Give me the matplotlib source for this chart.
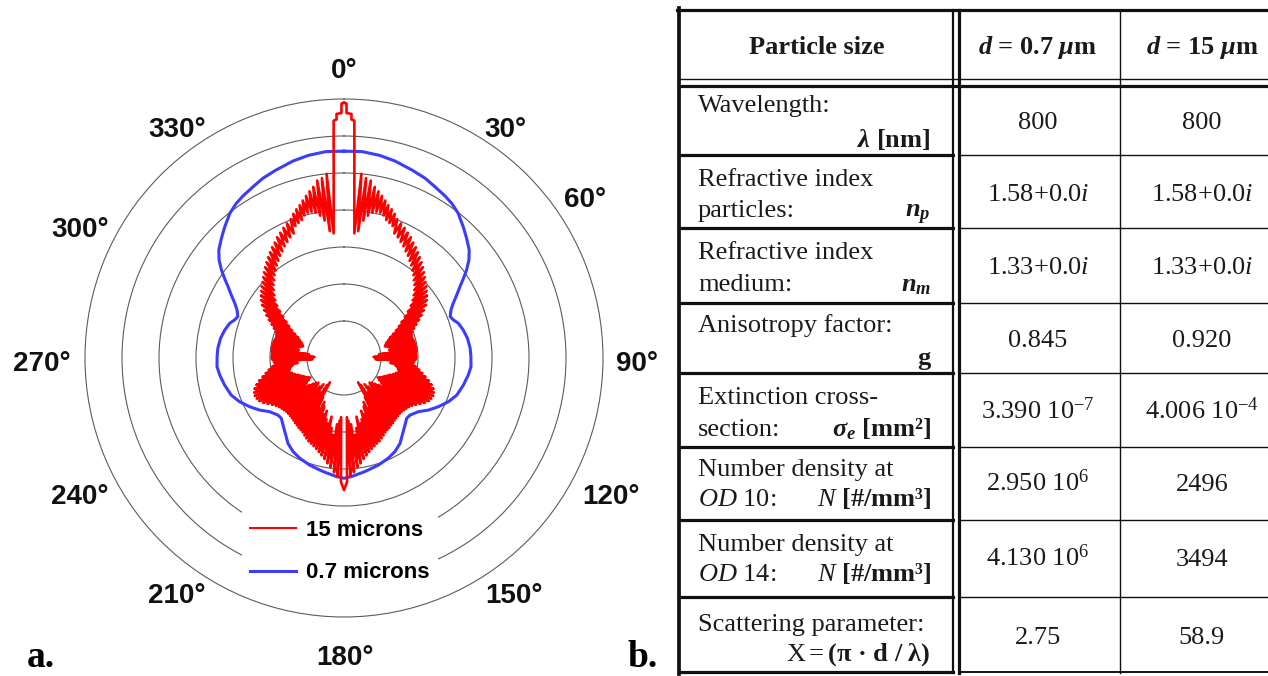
import numpy as np
import matplotlib
matplotlib.use("Agg")
import matplotlib.pyplot as plt

W, H = 1268, 676

# ---- panel a: phase functions, right half 0..180 deg (the plot is mirror symmetric)
blue_deg = [0, 5, 10, 14.5, 20, 24.3, 28, 32, 35, 38.3, 42.3, 45.7, 49.2, 51.9, 54.3, 56.3,
            58.4, 60.8, 63.4, 65.8, 68.7, 70.8, 73.1, 76.8, 81, 85.6, 89.4, 93.9, 97.8,
            102.7, 108.2, 112.7, 117.3, 121.7, 125.8, 130.8, 133.9, 137.7, 142.9, 146.7,
            151.4, 156.2, 162.2, 169.5, 176.3, 180]
blue_r = [5.59, 5.60, 5.56, 5.50, 5.40, 5.33, 5.24, 5.16, 5.09, 4.98, 4.79, 4.63, 4.47, 4.29, 4.08, 3.88,
          3.68, 3.49, 3.30, 3.17, 3.08, 3.13, 3.23, 3.31, 3.38, 3.42, 3.43, 3.44, 3.39,
          3.31, 3.21, 3.06, 2.87, 2.68, 2.48, 2.36, 2.35, 2.45, 2.61, 2.76,
          2.88, 2.96, 3.04, 3.12, 3.21, 3.25]

# forward peak and first side lobes
red_head_deg = [0, 0.55, 0.6, 1.75, 1.8, 2.5, 3.2, 4.0, 4.75, 5.4, 6.4, 7.0, 8.0, 8.6, 9.5,
                10.2, 11.0, 11.7, 12.5, 13.2, 14.0, 14.7, 15.5, 16.2, 17.0, 17.8, 18.6, 19.4, 20.2]
red_head_r = [6.90, 6.88, 6.62, 6.60, 6.45, 6.42, 5.00, 4.00, 3.38, 5.00, 3.45, 4.90, 3.75, 4.85, 3.90,
              4.70, 4.00, 4.60, 4.05, 4.50, 4.05, 4.40, 4.00, 4.30, 3.90, 4.22, 3.85, 4.13, 3.80]
# 21..175 deg, one reading per degree (peaks / dips of the ripple)
red_mid_deg = list(range(21, 176))
red_mid_r = [4.02, 3.63, 3.95, 3.57, 3.88, 3.49, 3.80, 3.42, 3.73, 3.33,
             3.64, 3.26, 3.57, 3.17, 3.49, 3.09, 3.41, 3.00, 3.33, 2.92,
             3.25, 2.82, 3.17, 2.74, 3.09, 2.64, 3.01, 2.53, 2.95, 2.42,
             2.88, 2.29, 2.81, 2.13, 2.73, 1.98, 2.64, 1.83, 2.52, 1.71,
             2.40, 1.59, 2.28, 1.47, 2.16, 1.36, 2.06, 1.29, 1.98, 1.22,
             1.94, 1.18, 1.92, 1.15, 1.94, 1.22, 1.96, 1.32, 1.96, 1.24,
             1.97, 1.28, 1.97, 0.95, 1.96, 1.30, 1.95, 0.80, 1.96, 1.25,
             1.95, 0.85, 1.90, 1.30, 1.88, 1.26, 1.96, 1.40, 2.06, 1.46,
             2.16, 1.50, 2.26, 1.52, 2.38, 1.46, 2.48, 1.40, 2.56, 1.32,
             2.60, 1.26, 2.62, 1.20, 2.60, 1.16, 2.57, 1.10, 2.50, 1.05,
             2.41, 1.12, 2.32, 1.22, 2.25, 1.30, 2.20, 1.18, 2.17, 1.08,
             2.15, 1.00, 2.13, 0.96, 2.13, 1.06, 2.14, 1.22, 2.15, 1.02,
             2.17, 0.90, 2.20, 1.12, 2.22, 1.32, 2.25, 0.86, 2.27, 0.76,
             2.30, 1.20, 2.35, 1.52, 2.40, 1.30, 2.45, 1.42, 2.48, 1.62,
             2.52, 1.50, 2.57, 1.72, 2.63, 1.82, 2.70, 1.62, 2.78, 1.92,
             2.88, 2.10, 2.98, 1.80, 3.10]
# back-scatter (glory) spike
red_tail_deg = [176.0, 176.8, 177.2, 178.6, 180.0]
red_tail_r = [1.70, 3.20, 1.60, 3.35, 3.57]

ring_r = [1, 2, 3, 4, 5, 6, 7]
angle_ticks = [0, 30, 60, 90, 120, 150, 180, 210, 240, 270, 300, 330]
series_labels = ["15 microns", "0.7 microns"]

# ---- panel b: table
col_heads = ["Particle size", r"$\mathbfit{d}$ = 0.7 $\mathbfit{\mu}$m", r"$\mathbfit{d}$ = 15 $\mathbfit{\mu}$m"]
row_line1 = ["Wavelength:", "Refractive index", "Refractive index", "Anisotropy factor:",
             "Extinction cross-", "Number density at", "Number density at", "Scattering parameter:"]
row_line2 = ["", "particles:", "medium:", "", "section:",
             r"$\mathit{OD}$ 10:", r"$\mathit{OD}$ 14:", ""]
row_units = [r"$\mathbfit{\lambda}$ [nm]", r"$\mathbfit{n}_\mathbfit{p}$", r"$\mathbfit{n}_\mathbfit{m}$", "g",
             r"$\mathbfit{\sigma}_\mathbfit{e}$ [mm²]", r"$\mathit{N}$ [#/mm³]", r"$\mathit{N}$ [#/mm³]",
             r"$\mathrm{X}=$(π · d / λ)"]
vals_07 = ["800", r"1.58+0.0$\mathit{i}$", r"1.33+0.0$\mathit{i}$", "0.845",
           r"3.390 10$^{-7}$", r"2.950 10$^{6}$", r"4.130 10$^{6}$", "2.75"]
vals_15 = ["800", r"1.58+0.0$\mathit{i}$", r"1.33+0.0$\mathit{i}$", "0.920",
           r"4.006 10$^{-4}$", "2496", "3494", "58.9"]

plt.rcParams.update({
    "mathtext.fontset": "custom",
    "mathtext.rm": "Liberation Serif",
    "mathtext.it": "Liberation Serif:italic",
    "mathtext.bf": "Liberation Serif:bold",
    "mathtext.bfit": "Liberation Serif:italic:bold",
})

fig = plt.figure(figsize=(W / 100, H / 100), dpi=100)

# polar axes: centre (344, 358) px, r = 7 at 259 px
r_max = 7.05
rad_px = 259 * r_max / 7
cx, cy = 344, 358
ax = fig.add_axes([(cx - rad_px) / W, (H - cy - rad_px) / H, 2 * rad_px / W, 2 * rad_px / H],
                  projection="polar")
ax.set_theta_zero_location("N")
ax.set_theta_direction(-1)
ax.set_ylim(0, r_max)
ax.set_yticks(ring_r)
ax.set_yticklabels([])
ax.set_xticks([])
ax.yaxis.grid(True, color="#5c5c5c", lw=0.8)
ax.spines["polar"].set_visible(False)


def mirrored(deg, r):
    deg = np.asarray(deg, float)
    r = np.asarray(r, float)
    full_deg = np.concatenate([deg, 360 - deg[::-1]])
    full_r = np.concatenate([r, r[::-1]])
    return np.radians(full_deg), full_r


bt, br = mirrored(blue_deg, blue_r)
rt, rr = mirrored(red_head_deg + red_mid_deg + red_tail_deg, red_head_r + red_mid_r + red_tail_r)
l_blue, = ax.plot(bt, br, color="#3c3cff", lw=2.2, label=series_labels[1])
l_red, = ax.plot(rt, rr, color="#ff0000", lw=1.9, label=series_labels[0])

leg = ax.legend(handles=[l_red, l_blue], loc="upper left", bbox_to_anchor=(242 / W, 1 - 512 / H),
                bbox_transform=fig.transFigure, prop=dict(family="Liberation Sans", weight="bold", size=16),
                frameon=True, fancybox=False, edgecolor="none", facecolor="white", framealpha=1,
                handlelength=2.1, handletextpad=0.45, labelspacing=0.97, borderpad=0.35, borderaxespad=0)
leg.get_lines()[0].set_linewidth(1.5)

# overlay in pixel coordinates for labels and the table
ov = fig.add_axes([0, 0, 1, 1])
ov.set_xlim(0, W)
ov.set_ylim(H, 0)
ov.axis("off")

tick_pos = {0: (344, 68), 30: (505, 127), 60: (585, 197), 90: (637, 361), 120: (611, 494),
            150: (514, 593), 180: (345, 655), 210: (177, 593), 240: (80, 494), 270: (42, 361),
            300: (80, 227), 330: (177, 127)}
for a in angle_ticks:
    x, y = tick_pos[a]
    ov.text(x, y + 10, f"{a}°", ha="center", va="baseline", family="Liberation Sans",
            weight="bold", size=20, color="#111111")

ov.text(27, 667, "a.", family="Liberation Serif", weight="bold", size=27, va="baseline")
ov.text(628, 667, "b.", family="Liberation Serif", weight="bold", size=27, va="baseline")

# table grid
thick, thin = 2.3, 1.0
k = "#111111"
x_right = 1300
ov.plot([677, x_right], [9.5, 9.5], color=k, lw=thick)
ov.plot([679, 679], [8, 674], color=k, lw=2.7)
ov.plot([679, x_right], [78.5, 78.5], color=k, lw=thin)
ov.plot([679, x_right], [85.5, 85.5], color=k, lw=thick)
ov.plot([953, 953], [9.5, 673], color=k, lw=1.6)
ov.plot([959, 959], [9.5, 673], color=k, lw=thick)
ov.plot([1120, 1120], [9.5, 673], color=k, lw=thin)
row_edges = [155, 228, 303, 373, 447, 520, 597]
for y in row_edges:
    ov.plot([679, 953], [y, y], color=k, lw=thick)
    ov.plot([959, x_right], [y, y], color=k, lw=thin)
ov.plot([679, 953], [672, 672], color=k, lw=thick)
ov.plot([959, x_right], [672, 672], color=k, lw=1.4)

serif = dict(family="Liberation Serif", size=19, color="#1a1a1a", va="baseline")
ov.text(817, 54, col_heads[0], ha="center", weight="bold", **serif)
ov.text(1038, 54, col_heads[1], ha="center", weight="bold", **serif)
ov.text(1202, 54, col_heads[2], ha="center", weight="bold", **serif)

base1 = [112, 186, 259, 332, 404, 476, 551, 631]
base2 = [147, 217, 291, 365, 436, 506, 581, 661]
base_val = [129, 201, 274, 347, 419, 491, 566, 644]
for i in range(len(row_line1)):
    ov.text(698, base1[i], row_line1[i], ha="left", **serif)
    if row_line2[i]:
        ov.text(698, base2[i], row_line2[i], ha="left", **serif)
    ov.text(931, base2[i], row_units[i], ha="right", weight="bold", **serif)
    ov.text(1038, base_val[i], vals_07[i], ha="center", **serif)
    ov.text(1202, base_val[i], vals_15[i], ha="center", **serif)

fig.savefig("out.png", dpi=100)
